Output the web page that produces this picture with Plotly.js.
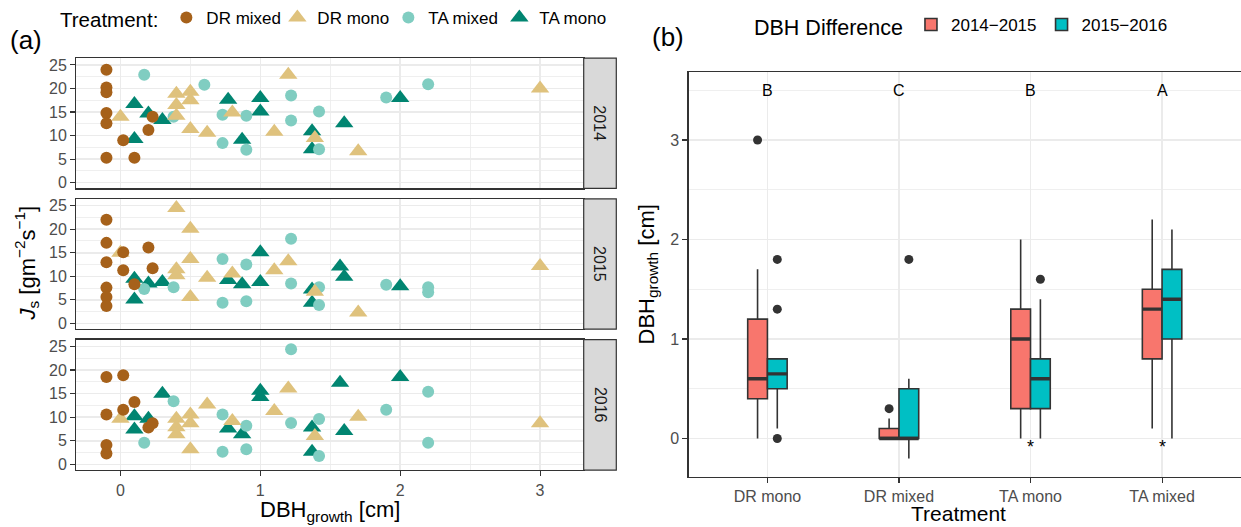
<!DOCTYPE html>
<html><head><meta charset="utf-8">
<script src="https://cdn.plot.ly/plotly-3.0.1.min.js"></script>
<style>html,body{margin:0;padding:0;background:#fff}#chart{width:1241px;height:527px}</style>
</head><body><div id="chart"></div>
<script>
// ---------- Panel (a) data: DBH growth [cm] vs Js ----------
const years = ['2014', '2015', '2016'];
const treatmentNames = ['DR mixed', 'DR mono', 'TA mixed', 'TA mono'];

const drMixed2014X = [-0.1, -0.1, -0.1, -0.1, -0.1, -0.1, 0.02, 0.1, 0.2, 0.23];
const drMixed2014Y = [24.0, 20.2, 19.2, 14.8, 12.6, 5.3, 9.0, 5.3, 11.2, 14.0];
const drMono2014X = [0, 0.4, 0.5, 0.4, 0.5, 0.4, 0.5, 0.62, 0.8, 1.1, 1.2, 1.39, 1.7, 3.0];
const drMono2014Y = [14.0, 18.9, 19.3, 16.5, 17.5, 14.2, 11.4, 10.6, 14.9, 10.8, 22.9, 9.5, 6.7, 20.0];
const taMixed2014X = [0.17, 0.38, 0.6, 0.73, 0.73, 0.9, 0.9, 1.22, 1.22, 1.42, 1.42, 1.9, 2.2];
const taMixed2014Y = [22.9, 14.0, 20.8, 14.4, 8.4, 14.2, 7.0, 18.5, 13.2, 15.1, 7.1, 18.1, 20.9];
const taMono2014X = [0.1, 0.1, 0.2, 0.3, 0.77, 0.87, 1.0, 1.0, 1.37, 1.37, 1.6, 2.0];
const taMono2014Y = [16.7, 9.3, 14.7, 13.3, 17.6, 9.1, 18.0, 15.1, 10.9, 7.1, 12.6, 18.0];

const drMixed2015X = [-0.1, -0.1, -0.1, -0.1, -0.1, -0.1, 0.02, 0.02, 0.1, 0.2, 0.23];
const drMixed2015Y = [22.0, 17.1, 13.0, 7.6, 5.6, 3.7, 15.1, 11.3, 8.3, 16.1, 11.7];
const drMono2015X = [0, 0.4, 0.5, 0.5, 0.4, 0.4, 0.5, 0.62, 0.8, 1.1, 1.2, 1.39, 1.7, 3.0];
const drMono2015Y = [15.0, 24.5, 20.1, 13.7, 11.5, 10.2, 5.6, 9.7, 10.6, 11.3, 13.2, 6.7, 2.3, 12.2];
const taMixed2015X = [0.17, 0.38, 0.73, 0.73, 0.9, 0.9, 1.22, 1.22, 1.42, 1.42, 1.9, 2.2, 2.2];
const taMixed2015Y = [7.3, 7.7, 13.7, 4.4, 12.5, 4.7, 18.0, 8.5, 7.7, 3.9, 8.2, 7.7, 6.6];
const taMono2015X = [0.1, 0.1, 0.2, 0.3, 0.77, 0.87, 1.0, 1.0, 1.37, 1.37, 1.57, 1.6, 2.0];
const taMono2015Y = [9.5, 5.1, 8.5, 8.8, 9.2, 8.3, 15.1, 8.8, 7.2, 4.4, 12.1, 9.9, 7.9];

const drMixed2016X = [-0.1, -0.1, -0.1, -0.1, 0.02, 0.02, 0.1, 0.2, 0.23];
const drMixed2016Y = [18.5, 10.6, 4.1, 2.3, 18.9, 11.6, 13.2, 7.8, 8.7];
const drMono2016X = [0, 0.4, 0.4, 0.4, 0.5, 0.5, 0.5, 0.62, 0.8, 1.1, 1.2, 1.39, 1.7, 3.0];
const drMono2016Y = [9.7, 9.7, 7.9, 6.4, 10.6, 8.7, 3.2, 12.7, 9.2, 11.3, 16.1, 6.0, 10.1, 8.7];
const taMixed2016X = [0.17, 0.38, 0.73, 0.73, 0.9, 0.9, 1.22, 1.22, 1.42, 1.42, 1.9, 2.2, 2.2];
const taMixed2016Y = [4.6, 13.4, 10.6, 2.7, 8.2, 3.2, 24.4, 8.8, 9.6, 1.8, 11.6, 15.4, 4.6];
const taMono2016X = [0.1, 0.1, 0.2, 0.3, 0.77, 0.87, 1.0, 1.0, 1.37, 1.37, 1.57, 1.6, 2.0];
const taMono2016Y = [10.2, 7.4, 9.7, 15.0, 7.6, 6.4, 15.6, 14.3, 7.8, 2.7, 17.3, 7.1, 18.5];

// ---------- Panel (b) data: DBH growth box stats ----------
const categories = ['DR mono', 'DR mixed', 'TA mono', 'TA mixed'];
const seriesNames = ['2014\u22122015', '2015\u22122016'];
const q1A = [0.4, 0.0, 0.3, 0.8];
const medA = [0.6, 0.0, 1.0, 1.3];
const q3A = [1.2, 0.1, 1.3, 1.5];
const loA = [0.0, 0.0, 0.0, 0.1];
const hiA = [1.7, 0.2, 2.0, 2.2];
const q1B = [0.5, 0.0, 0.3, 1.0];
const medB = [0.65, 0.0, 0.6, 1.4];
const q3B = [0.8, 0.5, 0.8, 1.7];
const loB = [0.1, -0.2, 0.0, 0.0];
const hiB = [0.8, 0.6, 1.4, 2.1];
const outlierCatA = ['DR mono', 'DR mixed'];
const outlierValA = [3.0, 0.3];
const outlierCatB = ['DR mono', 'DR mono', 'DR mono', 'DR mixed', 'TA mono'];
const outlierValB = [1.8, 1.3, 0.0, 1.8, 1.6];
const groupLetters = ['B', 'C', 'B', 'A'];
const letterY = 3.5;
const starCategories = ['TA mono', 'TA mixed'];
const starY = -0.09;

// ---------- build ----------
const W = 1241, H = 527;
const FONT = 'Liberation Sans, Arial, sans-serif';
const px = p => p / W;
const py = p => 1 - p / H;

const groupData = {
  'DR mixed': {'2014': [drMixed2014X, drMixed2014Y], '2015': [drMixed2015X, drMixed2015Y], '2016': [drMixed2016X, drMixed2016Y]},
  'DR mono':  {'2014': [drMono2014X, drMono2014Y], '2015': [drMono2015X, drMono2015Y], '2016': [drMono2016X, drMono2016Y]},
  'TA mixed': {'2014': [taMixed2014X, taMixed2014Y], '2015': [taMixed2015X, taMixed2015Y], '2016': [taMixed2016X, taMixed2016Y]},
  'TA mono':  {'2014': [taMono2014X, taMono2014Y], '2015': [taMono2015X, taMono2015Y], '2016': [taMono2016X, taMono2016Y]}
};
const groupStyle = {
  'DR mixed': {color: '#A6611A', symbol: 'circle', size: 12, rank: 1},
  'DR mono':  {color: '#DFC27D', symbol: 'triangle-up', size: 16, rank: 2},
  'TA mixed': {color: '#80CDC1', symbol: 'circle', size: 12, rank: 3},
  'TA mono':  {color: '#018571', symbol: 'triangle-up', size: 16, rank: 4}
};
const drawOrder = ['TA mono', 'TA mixed', 'DR mono', 'DR mixed'];
const facets = [
  {year: '2014', xa: 'x', ya: 'y', top: 57.3, bottom: 187.7},
  {year: '2015', xa: 'x2', ya: 'y2', top: 198.3, bottom: 328.7},
  {year: '2016', xa: 'x3', ya: 'y3', top: 339.3, bottom: 470.0}
];

const traces = [];
facets.forEach((f, fi) => {
  drawOrder.forEach(g => {
    const st = groupStyle[g];
    const d = groupData[g][f.year];
    traces.push({
      type: 'scatter', mode: 'markers', x: d[0], y: d[1], xaxis: f.xa, yaxis: f.ya,
      name: g, legendgroup: g, legendrank: st.rank, showlegend: fi === 0, legend: 'legend',
      marker: {color: st.color, symbol: st.symbol, size: st.size, line: {width: 0}},
      hoverinfo: 'skip'
    });
  });
});

// boxes
const boxSets = [
  {name: seriesNames[0], q1: q1A, med: medA, q3: q3A, lo: loA, hi: hiA, fill: '#F8766D', og: 'a', oc: outlierCatA, ov: outlierValA, off: -0.075},
  {name: seriesNames[1], q1: q1B, med: medB, q3: q3B, lo: loB, hi: hiB, fill: '#00BFC4', og: 'b', oc: outlierCatB, ov: outlierValB, off: 0.075}
];
boxSets.forEach(b => {
  traces.push({
    type: 'box', x: categories, q1: b.q1, median: b.med, q3: b.q3, lowerfence: b.lo, upperfence: b.hi,
    xaxis: 'x4', yaxis: 'y4', name: b.name, legend: 'legend2', offsetgroup: b.og,
    fillcolor: b.fill, line: {color: '#333333', width: 1.6}, whiskerwidth: 0, boxpoints: false, hoverinfo: 'skip'
  });
});
// thick median lines (ggplot fatten)
boxSets.forEach(b => {
  traces.push({
    type: 'box', x: categories, q1: b.med, median: b.med, q3: b.med, lowerfence: b.med, upperfence: b.med,
    xaxis: 'x4', yaxis: 'y4', name: b.name + ' median', legend: 'legend2', offsetgroup: b.og, showlegend: false,
    fillcolor: 'rgba(0,0,0,0)', line: {color: '#333333', width: 3.4}, whiskerwidth: 0, boxpoints: false, hoverinfo: 'skip'
  });
});
// outliers on an overlaid numeric axis aligned with category indices
boxSets.forEach(b => {
  traces.push({
    type: 'scatter', mode: 'markers', xaxis: 'x5', yaxis: 'y4', showlegend: false,
    x: b.oc.map(c => categories.indexOf(c) + b.off), y: b.ov,
    marker: {color: '#333333', size: 9, symbol: 'circle'}, hoverinfo: 'skip'
  });
});

const gridMajor = '#EBEBEB';
function axA(domain, anchor, isX, showTicks) {
  const a = {
    domain: domain, anchor: anchor, showgrid: true, gridcolor: gridMajor, gridwidth: 1.5,
    zeroline: false, showline: true, mirror: true, linecolor: '#333333', linewidth: 1.2,
    ticks: showTicks ? 'outside' : '', ticklen: 5, tickwidth: 1.1, tickcolor: '#333333',
    showticklabels: showTicks, tickfont: {size: 16, color: '#4D4D4D', family: FONT}, fixedrange: true
  };
  if (isX) {
    Object.assign(a, {range: [-0.3155, 3.312], tick0: 0, dtick: 1,
      minor: {tick0: 0, dtick: 0.5, showgrid: true, gridcolor: gridMajor, gridwidth: 0.8, ticks: ''}});
  } else {
    Object.assign(a, {range: [-1.2, 26.43], tick0: 0, dtick: 5,
      minor: {tick0: 0, dtick: 2.5, showgrid: true, gridcolor: gridMajor, gridwidth: 0.8, ticks: ''}});
  }
  return a;
}
const xDomA = [px(76.3), px(583.7)];

const layout = {
  width: W, height: H, margin: {l: 0, r: 0, t: 0, b: 0},
  paper_bgcolor: '#ffffff', plot_bgcolor: '#ffffff',
  font: {family: FONT, color: '#1A1A1A'},
  showlegend: true, hovermode: false,
  boxmode: 'group', boxgap: 0.7, boxgroupgap: 0,
  xaxis: axA(xDomA, 'y', true, false),
  xaxis2: axA(xDomA, 'y2', true, false),
  xaxis3: axA(xDomA, 'y3', true, true),
  yaxis: axA([py(facets[0].bottom), py(facets[0].top)], 'x', false, true),
  yaxis2: axA([py(facets[1].bottom), py(facets[1].top)], 'x2', false, true),
  yaxis3: axA([py(facets[2].bottom), py(facets[2].top)], 'x3', false, true),
  xaxis4: {
    domain: [px(688.5), 1], anchor: 'y4', type: 'category', categoryorder: 'array', categoryarray: categories,
    range: [-0.6, 3.6], showgrid: true, gridcolor: gridMajor, gridwidth: 1.5, zeroline: false,
    showline: true, mirror: true, linecolor: '#333333', linewidth: 1.2,
    ticks: 'outside', ticklen: 5, tickwidth: 1.1, tickcolor: '#333333',
    tickfont: {size: 16, color: '#4D4D4D'}, fixedrange: true
  },
  xaxis5: {overlaying: 'x4', anchor: 'y4', range: [-0.6, 3.6], visible: false, fixedrange: true},
  yaxis4: {
    domain: [py(476.7), py(71)], anchor: 'x4', range: [-0.385, 3.685], tick0: 0, dtick: 1,
    showgrid: true, gridcolor: gridMajor, gridwidth: 1.5, zeroline: false,
    minor: {tick0: 0, dtick: 0.5, showgrid: true, gridcolor: gridMajor, gridwidth: 0.8, ticks: ''},
    showline: true, mirror: true, linecolor: '#333333', linewidth: 1.2,
    ticks: 'outside', ticklen: 5, tickwidth: 1.1, tickcolor: '#333333',
    tickfont: {size: 16, color: '#4D4D4D'}, fixedrange: true
  },
  legend: {
    orientation: 'h', x: px(58), xanchor: 'left', y: py(18), yanchor: 'middle',
    title: {text: 'Treatment:', side: 'left', font: {size: 20.5, color: '#000000'}},
    font: {size: 17, color: '#000000'}, bgcolor: 'rgba(0,0,0,0)', borderwidth: 0, itemclick: false,
    entrywidth: 66, entrywidthmode: 'pixels'
  },
  legend2: {
    orientation: 'h', x: px(752), xanchor: 'left', y: py(26), yanchor: 'middle',
    title: {text: 'DBH Difference', side: 'left', font: {size: 21.5, color: '#000000'}},
    font: {size: 17, color: '#000000'}, bgcolor: 'rgba(0,0,0,0)', borderwidth: 0, itemclick: false
  },
  shapes: [],
  annotations: []
};

// facet strips
facets.forEach(f => {
  layout.shapes.push({type: 'rect', xref: 'paper', yref: 'paper', x0: px(583.7), x1: px(616.3),
    y0: py(f.bottom), y1: py(f.top), fillcolor: '#D9D9D9', line: {color: '#333333', width: 1.2}, layer: 'above'});
  layout.annotations.push({xref: 'paper', yref: 'paper', x: px(600), y: py((f.top + f.bottom) / 2),
    text: f.year, textangle: 90, showarrow: false, xanchor: 'center', yanchor: 'middle',
    font: {size: 16, color: '#1A1A1A'}});
});

// letters and stars
categories.forEach((c, i) => {
  layout.annotations.push({xref: 'x4', yref: 'y4', x: c, y: letterY, text: groupLetters[i], showarrow: false,
    xanchor: 'center', yanchor: 'middle', font: {size: 16, color: '#000000'}});
});
starCategories.forEach(c => {
  layout.annotations.push({xref: 'x4', yref: 'y4', x: c, y: starY, text: '*', showarrow: false,
    xanchor: 'center', yanchor: 'middle', font: {size: 18, color: '#000000'}});
});

// titles and panel labels
layout.annotations.push(
  {xref: 'paper', yref: 'paper', x: px(26), y: py(39), text: '(a)', showarrow: false, xanchor: 'center', yanchor: 'middle', font: {size: 26, color: '#000000'}},
  {xref: 'paper', yref: 'paper', x: px(668), y: py(36), text: '(b)', showarrow: false, xanchor: 'center', yanchor: 'middle', font: {size: 26, color: '#000000'}},
  {xref: 'paper', yref: 'paper', x: px(330), y: py(511), text: 'DBH<sub>growth</sub> [cm]', showarrow: false, xanchor: 'center', yanchor: 'middle', font: {size: 22, color: '#000000'}},
  {xref: 'paper', yref: 'paper', x: px(27), y: py(263), text: '<i>J</i><sub>s</sub> [gm<sup>\u22122</sup>s<sup>\u22121</sup>]', textangle: -90, showarrow: false, xanchor: 'center', yanchor: 'middle', font: {size: 22, color: '#000000'}},
  {xref: 'paper', yref: 'paper', x: px(958), y: py(513), text: 'Treatment', showarrow: false, xanchor: 'center', yanchor: 'middle', font: {size: 21, color: '#000000'}},
  {xref: 'paper', yref: 'paper', x: px(648), y: py(274), text: 'DBH<sub>growth</sub> [cm]', textangle: -90, showarrow: false, xanchor: 'center', yanchor: 'middle', font: {size: 22, color: '#000000'}}
);

Plotly.newPlot('chart', traces, layout, {staticPlot: true, displayModeBar: false});
</script>
</body></html>
